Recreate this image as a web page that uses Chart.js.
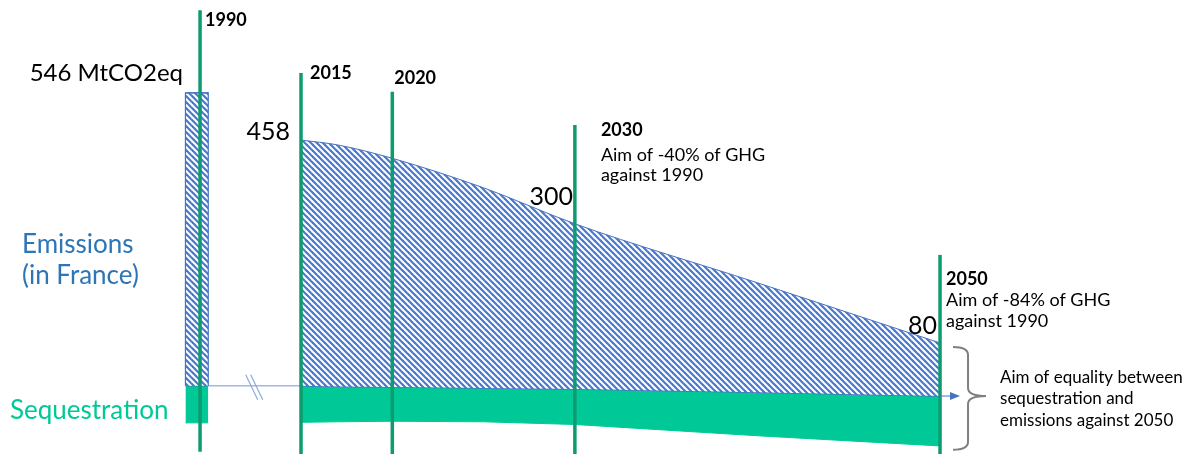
<!DOCTYPE html>
<html>
<head>
<meta charset="utf-8">
<script src="https://cdn.jsdelivr.net/npm/chart.js@4.4.1/dist/chart.umd.min.js"></script>
<style>
  html, body { margin: 0; padding: 0; background: #fff; }
  #wrap { width: 1191px; height: 454px; }
</style>
</head>
<body>
<div id="wrap"><canvas id="chart" width="1191" height="454"></canvas></div>
<script>
// Milestone years (vertical markers)
const milestones = ['1990', '2015', '2020', '2030', '2050'];
const milestoneYears = [1990, 2015, 2020, 2030, 2050];

// Emissions trajectory, MtCO2eq
const emissions1990 = 546;
const pathYears = [2015, 2017, 2020, 2025, 2030, 2040, 2050];
const emissions = [458, 449, 424, 369, 302, 192, 80];

// Sequestration band (drawn below zero)
const sequestration1990 = -69;
const sequestrationTop = [0, -1, -2, -4, -6, -12, -19];
const sequestrationBottom = [-68, -67, -66, -67, -72, -93, -112];

// value call-outs
const valueLabels = ['546 MtCO2eq', '458', '300', '80'];
const valueLabelYears = [1990, 2015, 2030, 2050];

// ---- layout ----
const BREAK_POS = 2009.47;            // axis break: where 1990 is drawn
const pos = yr => (yr === 1990 ? BREAK_POS : yr);
const BAR_L = BREAK_POS - 0.8, BAR_R = BREAK_POS + 0.45;
const lineTops = [700, 583, 548, 486, 244];
const FONT = 'Lato, "Open Sans", sans-serif';
const BLUE = '#4472C4', GREEN = '#00C997', LINE_GREEN = '#0E9B6F';

function hatch() {
    const s = 6, c = document.createElement('canvas');
    c.width = s; c.height = s;
    const g = c.getContext('2d');
    g.fillStyle = '#fff';
    g.fillRect(0, 0, s, s);
    g.strokeStyle = '#4A78CC';
    g.lineWidth = 2.2;
    for (const k of [-s, 0, s]) {
        g.beginPath();
        g.moveTo(k - 1, -1);
        g.lineTo(k + s + 1, s + 1);
        g.stroke();
    }
    return g.createPattern(c, 'repeat');
}
const pattern = hatch();

const pts = (xs, ys) => xs.map((x, i) => ({ x: x, y: ys[i] }));

const datasets = [
    { // emissions area 2015-2050
        data: pts(pathYears, emissions), borderColor: BLUE, borderWidth: 1,
        backgroundColor: pattern, fill: '+1', cubicInterpolationMode: 'monotone', order: 5
    },
    { // zero line / top of sequestration
        data: pts(pathYears, sequestrationTop), borderColor: BLUE, borderWidth: 1.5,
        backgroundColor: GREEN, fill: '+1', order: 5
    },
    {
        data: pts(pathYears, sequestrationBottom), borderColor: GREEN, borderWidth: 1, fill: false, order: 5
    },
    { // 1990 bar
        data: pts([BAR_L, BAR_R], [emissions1990, emissions1990]), borderColor: BLUE, borderWidth: 1,
        backgroundColor: pattern, fill: '+1', order: 5
    },
    {
        data: pts([BAR_L, BAR_R], [0, 0]), borderColor: BLUE, borderWidth: 1,
        backgroundColor: GREEN, fill: '+1', order: 5
    },
    {
        data: pts([BAR_L, BAR_R], [sequestration1990, sequestration1990]), borderColor: GREEN, borderWidth: 1, fill: false, order: 5
    },
    { // bar outline sides
        data: pts([BAR_L, BAR_L, BAR_R, BAR_R], [0, emissions1990, emissions1990, 0]),
        borderColor: BLUE, borderWidth: 1.2, fill: false, order: 4
    },
    { // link across the axis break
        data: pts([BAR_R, 2015], [0, 0]), borderColor: 'rgba(68,114,196,0.75)', borderWidth: 1, fill: false, order: 4
    }
];

milestoneYears.forEach((yr, i) => {
    datasets.push({
        data: pts([pos(yr), pos(yr)], [i === 0 ? -123 : -127, lineTops[i]]),
        borderColor: LINE_GREEN, borderWidth: 3.5, fill: false, order: 1
    });
});

const notesPlugin = {
    id: 'notes',
    afterDatasetsDraw(chart) {
        const ctx = chart.ctx, xs = chart.scales.x, ys = chart.scales.y;
        const X = yr => xs.getPixelForValue(pos(yr));
        const Y = v => ys.getPixelForValue(v);
        const txt = (t, x, y, size, opts = {}) => {
            ctx.font = (opts.bold ? 'bold ' : '') + size + 'px ' + FONT;
            ctx.fillStyle = opts.color || '#000';
            ctx.textAlign = opts.align || 'left';
            ctx.textBaseline = 'middle';
            ctx.fillText(t, x, y);
        };
        ctx.save();

        // milestone labels
        const yearDx = [5, 9, 2, 26, 6];
        const yearY = [682, 583, 574, 477, 199];
        milestoneYears.forEach((yr, i) => txt(milestones[i], X(yr) + yearDx[i], Y(yearY[i]), 18, { bold: true }));

        // value call-outs
        const valDx = [-17, -11, -2, -3];
        const valY = [583, 473, 352, 112];
        const valSize = [24, 25, 25, 25];
        valueLabelYears.forEach((yr, i) => txt(valueLabels[i], X(yr) + valDx[i], Y(valY[i]), valSize[i], { align: 'right' }));

        // targets
        txt('Aim of -40% of GHG', X(2030) + 26, Y(430), 18);
        txt('against 1990', X(2030) + 26, Y(393), 18);
        txt('Aim of -84% of GHG', X(2050) + 6, Y(160), 18);
        txt('against 1990', X(2050) + 6, Y(121), 18);
        txt('Aim of equality between', X(2050) + 60, Y(16), 17);
        txt('sequestration and', X(2050) + 60, Y(-23), 17);
        txt('emissions against 2050', X(2050) + 60, Y(-64), 17);

        // side captions
        txt('Emissions', chart.chartArea.left + 22, Y(264), 26, { color: '#2E75B6' });
        txt('(in France)', chart.chartArea.left + 22, Y(205), 26, { color: '#2E75B6' });
        txt('Sequestration', chart.chartArea.left + 10, Y(-47), 26, { color: GREEN });

        // break marks
        ctx.strokeStyle = '#8FAADC';
        ctx.lineWidth = 1.2;
        const bx = X(2012.3), by = Y(0);
        [0, 5].forEach(d => {
            ctx.beginPath();
            ctx.moveTo(bx + d - 6, by - 11);
            ctx.lineTo(bx + d + 6, by + 14);
            ctx.stroke();
        });

        // arrow at 2050
        const ay = Y(sequestrationTop[sequestrationTop.length - 1]);
        const ax = X(2050);
        ctx.strokeStyle = BLUE;
        ctx.fillStyle = BLUE;
        ctx.lineWidth = 1;
        ctx.beginPath();
        ctx.moveTo(ax, ay);
        ctx.lineTo(ax + 12, ay);
        ctx.stroke();
        ctx.beginPath();
        ctx.moveTo(ax + 20, ay);
        ctx.lineTo(ax + 10, ay - 4);
        ctx.lineTo(ax + 10, ay + 4);
        ctx.closePath();
        ctx.fill();

        // brace
        const x0 = ax + 13, xv = ax + 28, tip = ax + 46;
        const yT = Y(emissions[emissions.length - 1]) + 4, yB = Y(-119), yM = ay;
        ctx.strokeStyle = '#7F7F7F';
        ctx.lineWidth = 2;
        ctx.beginPath();
        ctx.moveTo(x0, yT);
        ctx.quadraticCurveTo(xv, yT, xv, yT + 8);
        ctx.lineTo(xv, yM - 8);
        ctx.quadraticCurveTo(xv, yM, tip, yM);
        ctx.moveTo(tip, yM);
        ctx.quadraticCurveTo(xv, yM, xv, yM + 8);
        ctx.lineTo(xv, yB - 8);
        ctx.quadraticCurveTo(xv, yB, x0, yB);
        ctx.stroke();

        ctx.restore();
    }
};

new Chart(document.getElementById('chart'), {
    type: 'line',
    data: { datasets: datasets },
    options: {
        responsive: false,
        animation: false,
        events: [],
        layout: { padding: 0 },
        elements: { point: { radius: 0 }, line: { tension: 0 } },
        plugins: { legend: { display: false }, tooltip: { enabled: false } },
        scales: {
            x: { type: 'linear', min: 1998.513, max: 2063.746, display: false },
            y: { type: 'linear', min: -127, max: 719, display: false }
        }
    },
    plugins: [notesPlugin]
});
</script>
</body>
</html>
